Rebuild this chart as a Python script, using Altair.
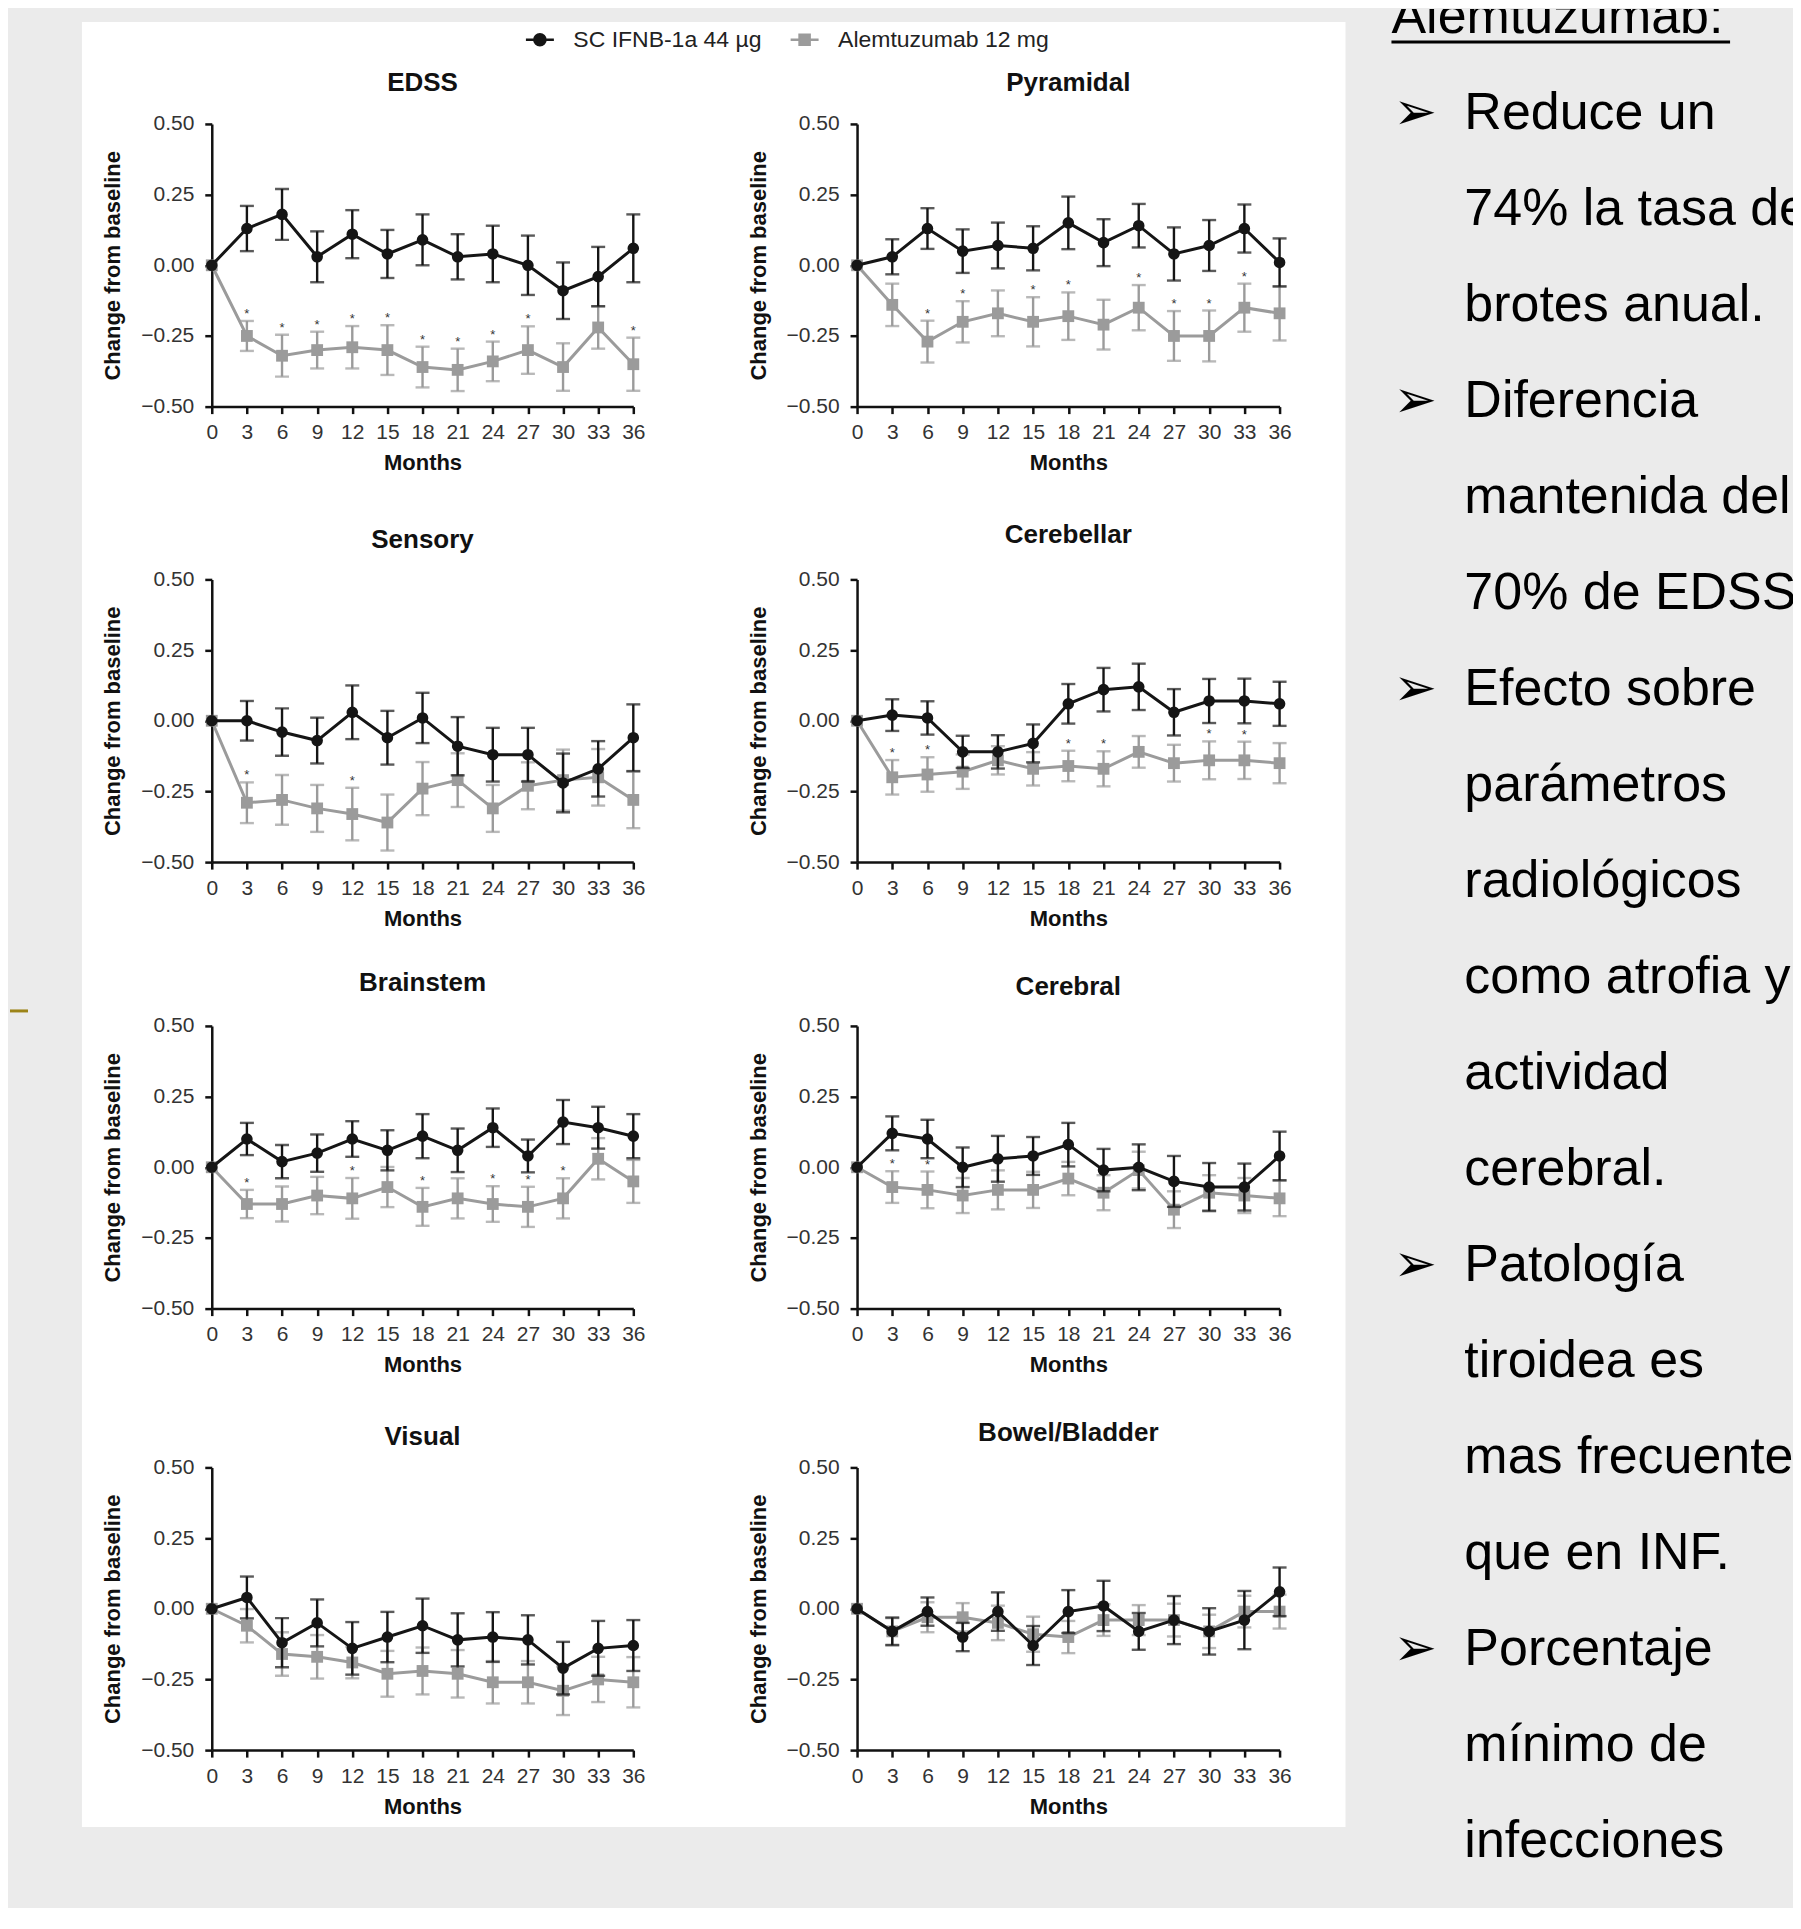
import altair as alt
import pandas as pd

# ---------------- data ----------------
MONTHS = [0, 3, 6, 9, 12, 15, 18, 21, 24, 27, 30, 33, 36]
Y_TICKS = [-0.5, -0.25, 0.0, 0.25, 0.5]
IFN_LABEL = "SC IFNB-1a 44 µg"
ALEM_LABEL = "Alemtuzumab 12 mg"

EDSS_IFN = [0, 0.13, 0.18, 0.03, 0.11, 0.04, 0.09, 0.03, 0.04, 0.00, -0.09, -0.04, 0.06]
EDSS_IFN_SE = [0, 0.08, 0.09, 0.09, 0.085, 0.085, 0.09, 0.08, 0.10, 0.105, 0.10, 0.105, 0.12]
EDSS_ALEM = [0, -0.25, -0.32, -0.30, -0.29, -0.30, -0.36, -0.37, -0.34, -0.30, -0.36, -0.22, -0.35]
EDSS_ALEM_SE = [0, 0.053, 0.074, 0.065, 0.075, 0.088, 0.072, 0.075, 0.07, 0.084, 0.084, 0.075, 0.094]
EDSS_STARS = [3, 6, 9, 12, 15, 18, 21, 24, 27, 36]

PYR_IFN = [0, 0.03, 0.13, 0.05, 0.07, 0.06, 0.15, 0.08, 0.14, 0.04, 0.07, 0.13, 0.01]
PYR_IFN_SE = [0, 0.062, 0.072, 0.077, 0.081, 0.078, 0.093, 0.083, 0.077, 0.094, 0.09, 0.085, 0.085]
PYR_ALEM = [0, -0.14, -0.27, -0.20, -0.17, -0.20, -0.18, -0.21, -0.15, -0.25, -0.25, -0.15, -0.17]
PYR_ALEM_SE = [0, 0.075, 0.074, 0.073, 0.081, 0.087, 0.084, 0.088, 0.08, 0.088, 0.09, 0.085, 0.096]
PYR_STARS = [6, 9, 15, 18, 24, 27, 30, 33]

SEN_IFN = [0, 0.00, -0.04, -0.07, 0.03, -0.06, 0.01, -0.09, -0.12, -0.12, -0.22, -0.17, -0.06]
SEN_IFN_SE = [0, 0.07, 0.084, 0.081, 0.095, 0.095, 0.089, 0.103, 0.095, 0.095, 0.104, 0.098, 0.118]
SEN_ALEM = [0, -0.29, -0.28, -0.31, -0.33, -0.36, -0.24, -0.21, -0.31, -0.23, -0.21, -0.20, -0.28]
SEN_ALEM_SE = [0, 0.072, 0.088, 0.083, 0.093, 0.099, 0.094, 0.095, 0.083, 0.083, 0.108, 0.10, 0.10]
SEN_STARS = [3, 12]

CBL_IFN = [0, 0.02, 0.01, -0.11, -0.11, -0.08, 0.06, 0.11, 0.12, 0.03, 0.07, 0.07, 0.06]
CBL_IFN_SE = [0, 0.056, 0.059, 0.057, 0.059, 0.067, 0.07, 0.077, 0.082, 0.082, 0.078, 0.079, 0.078]
CBL_ALEM = [0, -0.20, -0.19, -0.18, -0.14, -0.17, -0.16, -0.17, -0.11, -0.15, -0.14, -0.14, -0.15]
CBL_ALEM_SE = [0, 0.061, 0.061, 0.061, 0.05, 0.059, 0.054, 0.062, 0.056, 0.065, 0.067, 0.066, 0.071]
CBL_STARS = [3, 6, 18, 21, 30, 33]

BRS_IFN = [0, 0.10, 0.02, 0.05, 0.10, 0.06, 0.11, 0.06, 0.14, 0.04, 0.16, 0.14, 0.11]
BRS_IFN_SE = [0, 0.057, 0.059, 0.066, 0.063, 0.071, 0.078, 0.077, 0.068, 0.058, 0.078, 0.074, 0.078]
BRS_ALEM = [0, -0.13, -0.13, -0.10, -0.11, -0.07, -0.14, -0.11, -0.13, -0.14, -0.11, 0.03, -0.05]
BRS_ALEM_SE = [0, 0.05, 0.062, 0.066, 0.072, 0.071, 0.067, 0.071, 0.063, 0.071, 0.071, 0.073, 0.076]
BRS_STARS = [3, 12, 18, 24, 27, 30]

CER_IFN = [0, 0.12, 0.10, 0.00, 0.03, 0.04, 0.08, -0.01, 0.00, -0.05, -0.07, -0.07, 0.04]
CER_IFN_SE = [0, 0.06, 0.068, 0.07, 0.081, 0.067, 0.077, 0.075, 0.081, 0.09, 0.085, 0.083, 0.086]
CER_ALEM = [0, -0.07, -0.08, -0.10, -0.08, -0.08, -0.04, -0.09, -0.01, -0.15, -0.09, -0.10, -0.11]
CER_ALEM_SE = [0, 0.056, 0.065, 0.062, 0.069, 0.064, 0.059, 0.062, 0.065, 0.065, 0.062, 0.062, 0.063]
CER_STARS = [3, 6]

VIS_IFN = [0, 0.04, -0.12, -0.05, -0.14, -0.10, -0.06, -0.11, -0.10, -0.11, -0.21, -0.14, -0.13]
VIS_IFN_SE = [0, 0.074, 0.087, 0.083, 0.093, 0.089, 0.096, 0.094, 0.088, 0.087, 0.093, 0.097, 0.09]
VIS_ALEM = [0, -0.06, -0.16, -0.17, -0.19, -0.23, -0.22, -0.23, -0.26, -0.26, -0.29, -0.25, -0.26]
VIS_ALEM_SE = [0, 0.059, 0.077, 0.077, 0.056, 0.081, 0.083, 0.084, 0.075, 0.075, 0.086, 0.08, 0.089]
VIS_STARS = []

BB_IFN = [0, -0.08, -0.01, -0.10, -0.01, -0.13, -0.01, 0.01, -0.08, -0.04, -0.08, -0.04, 0.06]
BB_IFN_SE = [0, 0.049, 0.05, 0.05, 0.068, 0.069, 0.076, 0.089, 0.065, 0.085, 0.082, 0.103, 0.086]
BB_ALEM = [0, -0.08, -0.03, -0.03, -0.05, -0.09, -0.10, -0.04, -0.04, -0.04, -0.08, -0.01, -0.01]
BB_ALEM_SE = [0, 0.047, 0.053, 0.05, 0.061, 0.062, 0.057, 0.056, 0.053, 0.058, 0.059, 0.056, 0.06]
BB_STARS = []

TEXT_HEAD = "Alemtuzumab:"
TEXT_LINES = [
    "Reduce un", "74% la tasa de", "brotes anual.",
    "Diferencia", "mantenida del", "70% de EDSS.",
    "Efecto sobre", "parámetros", "radiológicos", "como atrofia y", "actividad", "cerebral.",
    "Patología", "tiroidea es", "mas frecuente", "que en INF.",
    "Porcentaje", "mínimo de", "infecciones", "serias.",
]
BULLET_LINES = [1, 4, 7, 13, 17]

# ---------------- styles ----------------
BLACK = "#151515"
GRAY = "#9b9b9b"
BG = "#ebebeb"
FONT = "Liberation Sans"
PW_L, PW_R, PH = 422, 423, 283

IFN_PATH = "M-1,0L1,0M0.4,0A0.4,0.4,0,1,1,-0.4,0A0.4,0.4,0,1,1,0.4,0Z"
ALEM_PATH = "M-1,0L1,0M-0.36,-0.36L0.36,-0.36L0.36,0.36L-0.36,0.36Z"

xscale = alt.Scale(domain=[0, 36], nice=False, zero=False)
yscale = alt.Scale(domain=[-0.5, 0.5], nice=False, zero=False)
xaxis = alt.Axis(values=MONTHS, title="Months", labelFlush=False)
yaxis = alt.Axis(values=Y_TICKS, format=".2f", title="Change from baseline")

SERIES_DOMAIN = [IFN_LABEL, ALEM_LABEL]
legend = alt.Legend(
    orient="none", legendX=313, legendY=15, direction="horizontal", title=None,
    labelFont=FONT, labelFontSize=23, labelColor="#222", labelLimit=400, symbolSize=784,
    labelOffset=18, columnPadding=23, symbolStrokeWidth=2.5, symbolOpacity=1,
)
leg_fill = alt.Fill("series:N", scale=alt.Scale(domain=SERIES_DOMAIN, range=[BLACK, GRAY]), legend=legend)
leg_stroke = alt.Stroke("series:N", scale=alt.Scale(domain=SERIES_DOMAIN, range=[BLACK, GRAY]), legend=legend)
leg_shape = alt.Shape("series:N", scale=alt.Scale(domain=SERIES_DOMAIN, range=[IFN_PATH, ALEM_PATH]), legend=legend)


def panel(name, ifn, ifn_se, alem, alem_se, stars, width, toff, with_legend=False):
    recs = []
    for label, means, ses in ((ALEM_LABEL, alem, alem_se), (IFN_LABEL, ifn, ifn_se)):
        for mo, mu, se in zip(MONTHS, means, ses):
            recs.append(dict(series=label, month=mo, mean=mu, lo=round(mu - se, 4),
                             hi=round(mu + se, 4), se=se,
                             star=bool(label == ALEM_LABEL and mo in stars)))
    base = alt.Chart(pd.DataFrame(recs))
    X = alt.X("month:Q", scale=xscale, axis=xaxis)

    def Y(f):
        return alt.Y(f + ":Q", scale=yscale, axis=yaxis)

    layers = []
    for label, col, shp, sz in ((ALEM_LABEL, GRAY, "square", 140), (IFN_LABEL, BLACK, "circle", 135)):
        sub = base.transform_filter(alt.datum.series == label)
        bars = sub.transform_filter(alt.datum.se > 0)
        layers.append(bars.mark_rule(color=col, strokeWidth=2.4).encode(x=X, y=Y("lo"), y2="hi:Q"))
        layers.append(bars.mark_tick(color=col, orient="horizontal", size=14, thickness=2.4).encode(x=X, y=Y("lo")))
        layers.append(bars.mark_tick(color=col, orient="horizontal", size=14, thickness=2.4).encode(x=X, y=Y("hi")))
        layers.append(sub.mark_line(color=col, strokeWidth=3).encode(x=X, y=Y("mean")))
        layers.append(sub.mark_point(filled=True, opacity=1, size=sz, shape=shp, color=col).encode(
            x=X, y=Y("mean")))
    layers.append(base.transform_filter(alt.datum.star).mark_text(
        text="*", dy=-7, fontSize=13, color="#333", baseline="middle").encode(x=X, y=Y("hi")))
    if with_legend:
        layers.append(base.transform_filter("datum.month < 0").mark_point(size=784).encode(
            x=X, y=Y("mean"), fill=leg_fill, stroke=leg_stroke, shape=leg_shape))
    return alt.layer(*layers).properties(
        width=width, height=PH,
        title=alt.TitleParams(text=name, font=FONT, fontSize=26, fontWeight="bold",
                              color="#111", offset=toff, anchor="middle"))


p_edss = panel("EDSS", EDSS_IFN, EDSS_IFN_SE, EDSS_ALEM, EDSS_ALEM_SE, EDSS_STARS, PW_L, 17, True)
p_pyr = panel("Pyramidal", PYR_IFN, PYR_IFN_SE, PYR_ALEM, PYR_ALEM_SE, PYR_STARS, PW_R, 17)
p_sen = panel("Sensory", SEN_IFN, SEN_IFN_SE, SEN_ALEM, SEN_ALEM_SE, SEN_STARS, PW_L, 15)
p_cbl = panel("Cerebellar", CBL_IFN, CBL_IFN_SE, CBL_ALEM, CBL_ALEM_SE, CBL_STARS, PW_R, 20)
p_brs = panel("Brainstem", BRS_IFN, BRS_IFN_SE, BRS_ALEM, BRS_ALEM_SE, BRS_STARS, PW_L, 19)
p_cer = panel("Cerebral", CER_IFN, CER_IFN_SE, CER_ALEM, CER_ALEM_SE, CER_STARS, PW_R, 15)
p_vis = panel("Visual", VIS_IFN, VIS_IFN_SE, VIS_ALEM, VIS_ALEM_SE, VIS_STARS, PW_L, 6)
p_bb = panel("Bowel/Bladder", BB_IFN, BB_IFN_SE, BB_ALEM, BB_ALEM_SE, BB_STARS, PW_R, 10)

one = pd.DataFrame({"k": [0]})


def spacer(w, h):
    # empty cell that only reserves room in the grid
    return alt.Chart(one).mark_text(text="").encode(
        x=alt.value(w / 2), y=alt.value(h / 2)).properties(width=w, height=h)


# decoration: white figure panel and small olive stroke of the slide
deco = alt.layer(
    alt.Chart(one).mark_rect(color="white").encode(
        x=alt.value(-130), x2=alt.value(1135), y=alt.value(13), y2=alt.value(1820)),
    alt.Chart(one).mark_rule(color="#9c8418", strokeWidth=3).encode(
        x=alt.value(-202), x2=alt.value(-184), y=alt.value(1003)),
).properties(width=PW_L, height=115)

# right-hand text block
tscale = alt.Scale(domain=[-0.08, 19.69], nice=False, zero=False, reverse=True)
df_head = pd.DataFrame({"idx": [0], "t": [TEXT_HEAD]})
df_lines = pd.DataFrame({"idx": list(range(1, len(TEXT_LINES) + 1)), "t": TEXT_LINES})
df_bul = pd.DataFrame({"idx": BULLET_LINES, "t": ["➢"] * len(BULLET_LINES)})
TY = alt.Y("idx:Q", scale=tscale, axis=None)
TEXT_H = 1906
text_unit = alt.layer(
    alt.Chart(df_head).mark_text(align="left", baseline="middle", font=FONT, fontSize=52,
                                 color="black", clip=True).encode(x=alt.value(41), y=TY, text="t:N"),
    alt.Chart(df_head).mark_rule(color="black", strokeWidth=3).encode(
        x=alt.value(41), x2=alt.value(380), y=alt.value(33)),
    alt.Chart(df_bul).mark_text(align="left", baseline="middle", font="DejaVu Sans", fontSize=52,
                                color="black", clip=True).encode(x=alt.value(43), y=TY, text="t:N"),
    alt.Chart(df_lines).mark_text(align="left", baseline="middle", font=FONT, fontSize=52,
                                  color="black", clip=True).encode(x=alt.value(114), y=TY, text="t:N"),
).properties(width=443, height=1900)

cells = [
    deco, spacer(PW_R, 115),
    p_edss, p_pyr,
    spacer(PW_L, 173), spacer(PW_R, 173),
    p_sen, p_cbl,
    spacer(PW_L, 164), spacer(PW_R, 164),
    p_brs, p_cer,
    spacer(PW_L, 159), spacer(PW_R, 159),
    p_vis, p_bb,
]
grid = alt.concat(*cells, columns=2, spacing={"row": 0, "column": 224},
                  align="each", bounds="flush")

chart = alt.hconcat(grid, text_unit, spacing=5).properties(
    padding=0, background=BG
).configure_view(strokeWidth=0).configure_axis(
    domainColor="#111", domainWidth=2.5, tickColor="#111", tickWidth=2.5, tickSize=7,
    labelFont=FONT, labelFontSize=21, labelColor="#333",
    titleFont=FONT, titleFontSize=22, titleFontWeight="bold", titleColor="#111",
    grid=False,
).configure_axisY(labelPadding=11, titlePadding=16).configure_axisX(labelPadding=8, titlePadding=10)

chart.save("out.html", embed_options={"renderer": "svg", "actions": False})
